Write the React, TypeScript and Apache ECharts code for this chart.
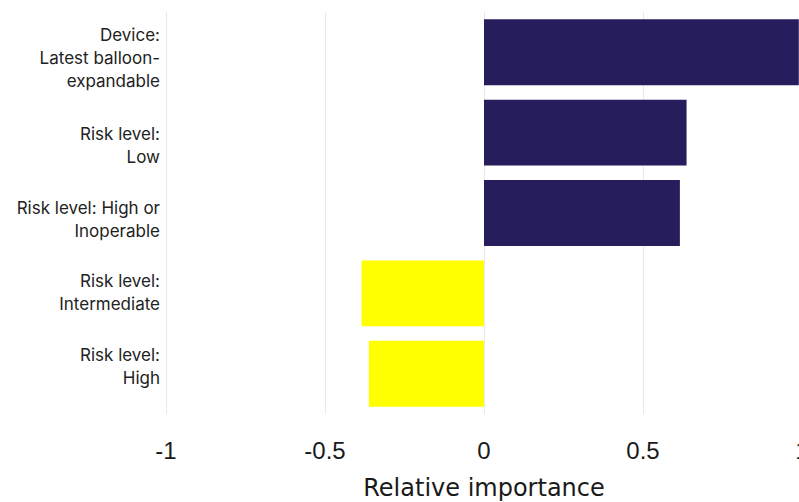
import React, { useEffect, useRef } from "react";
import * as echarts from "echarts";

const categories = [
  "Device:\nLatest balloon-\nexpandable",
  "Risk level:\nLow",
  "Risk level: High or\nInoperable",
  "Risk level:\nIntermediate",
  "Risk level:\nHigh",
];
const values = [0.99, 0.637, 0.616, -0.385, -0.362];
const xTicks = [-1, -0.5, 0, 0.5, 1];
const xAxisTitle = "Relative importance";

const POS_COLOR = "#261d5c";
const NEG_COLOR = "#ffff00";

export default function App() {
  const ref = useRef<HTMLDivElement>(null);

  useEffect(() => {
    if (!ref.current) return;
    const chart = echarts.init(ref.current, undefined, { renderer: "svg" });
    // vertical nudge of each category label (px, positive = down)
    const labelOffsets = [6, 13, 6, -1, -7];
    const rich: Record<string, any> = {};
    labelOffsets.forEach((o, i) => {
      rich["s" + i] = { fontSize: 1, lineHeight: Math.max(1, Math.abs(o) * 2) };
    });
    chart.setOption({
      animation: false,
      grid: {
        left: 166,
        right: -3,
        top: 12,
        bottom: 88,
        containLabel: false,
        outerBoundsMode: "none",
      },
      xAxis: {
        type: "value",
        min: xTicks[0],
        max: xTicks[xTicks.length - 1],
        interval: 0.5,
        name: xAxisTitle,
        nameLocation: "middle",
        nameGap: 62,
        nameTextStyle: { fontFamily: "DejaVu Sans", fontSize: 24, color: "#1a1a1a" },
        axisLine: { show: false },
        axisTick: { show: false },
        axisLabel: {
          margin: 24,
          fontFamily: "Liberation Sans",
          fontSize: 24,
          color: "#1a1a1a",
          formatter: (v: number) => String(v),
        },
        splitLine: { show: true, lineStyle: { color: "#e8e8e8", width: 1 } },
      },
      yAxis: {
        type: "category",
        inverse: true,
        data: categories,
        axisLine: { show: false },
        axisTick: { show: false },
        splitLine: { show: false },
        axisLabel: {
          margin: 6,
          fontFamily: "Inter",
          fontSize: 17,
          lineHeight: 23,
          color: "#222222",
          align: "right",
          rich,
          formatter: (value: string, index: number) => {
            const o = labelOffsets[index] || 0;
            if (o > 0) return "{s" + index + "| }\n" + value;
            if (o < 0) return value + "\n{s" + index + "| }";
            return value;
          },
        },
      },
      series: [
        {
          type: "bar",
          data: values.map((v) => ({
            value: v,
            itemStyle: { color: v >= 0 ? POS_COLOR : NEG_COLOR },
          })),
          barCategoryGap: "18%",
        },
      ],
    });
    return () => chart.dispose();
  }, []);

  return (
    <div
      ref={ref}
      style={{ position: "fixed", left: 0, top: 0, width: 799, height: 502, background: "#fff" }}
    />
  );
}
